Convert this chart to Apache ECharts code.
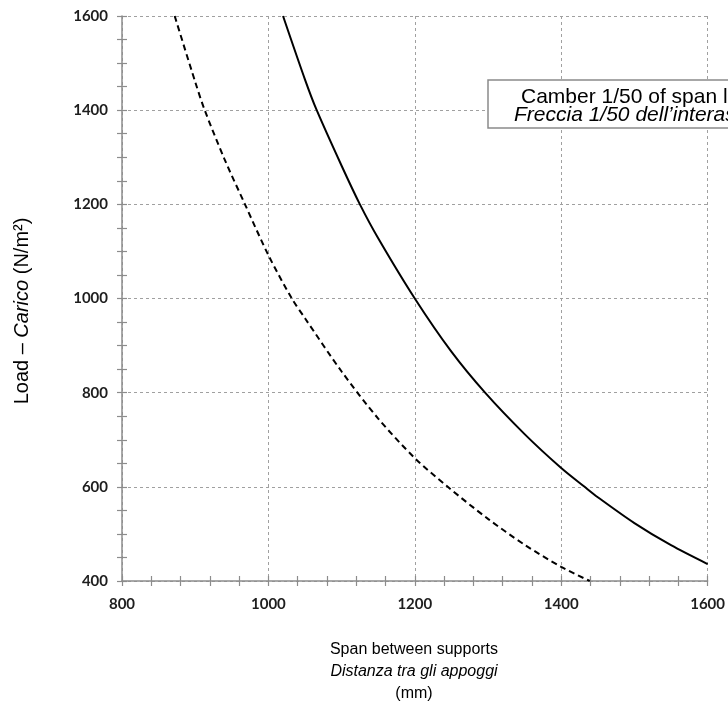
<!DOCTYPE html>
<html>
<head>
<meta charset="utf-8">
<script src="https://cdn.jsdelivr.net/npm/echarts@6/dist/echarts.min.js"></script>
<style>html,body{margin:0;padding:0;background:#fff;}#c{width:728px;height:702px;}</style>
</head>
<body>
<div id="c"></div>
<script>
// Span (mm) and load (N/m2)
const solidSpan = [1020, 1050, 1066, 1100, 1125, 1150, 1200, 1250, 1296, 1350, 1400, 1432, 1450, 1500, 1550, 1600];
const solidLoad = [1600, 1465, 1400, 1282, 1200, 1128, 1000, 887, 800, 712, 640, 600, 578, 523, 476, 436];
const dashedSpan = [872, 900, 913, 940, 968, 1000, 1032, 1050, 1100, 1150, 1200, 1245, 1300, 1350, 1400, 1439];
const dashedLoad = [1600, 1460, 1400, 1296, 1200, 1092, 1000, 958, 845, 745, 661, 600, 532, 477, 430, 400];
const xTicks = [800, 1000, 1200, 1400, 1600];
const yTicks = [400, 600, 800, 1000, 1200, 1400, 1600];
const legendLines = ['Camber 1/50 of span length', 'Freccia 1/50 dell\u2019interasse'];
const xTitle = ['Span between supports', 'Distanza tra gli appoggi', '(mm)'];

const chart = echarts.init(document.getElementById('c'));
const axisCol = '#8c8c8c';
const gridL = {show: true, lineStyle: {color: '#a0a0a0', type: [3, 3], width: 1}};
const labFont = {fontFamily: 'Lato', fontWeight: 'bold', fontSize: 15, color: '#1e1e1e', formatter: v => String(v)};

function xAx(main) {
  return {
    type: 'value', min: xTicks[0], max: xTicks[xTicks.length - 1], interval: 200,
    position: 'bottom',
    axisLine: {show: main, lineStyle: {color: axisCol, width: 1.5}},
    axisTick: {show: true, inside: !main, length: 5, lineStyle: {color: axisCol, width: 1.2}},
    minorTick: {show: true, splitNumber: 5, length: 5, lineStyle: {color: axisCol, width: 1.2}},
    axisLabel: main ? Object.assign({margin: 16}, labFont) : {show: false},
    splitLine: main ? gridL : {show: false}
  };
}
function yAx(main) {
  return {
    type: 'value', min: yTicks[0], max: yTicks[yTicks.length - 1], interval: 200,
    position: 'left',
    axisLine: {show: main, lineStyle: {color: axisCol, width: 1.5}},
    axisTick: {show: true, inside: !main, length: 5, lineStyle: {color: axisCol, width: 1.2}},
    minorTick: {show: true, splitNumber: 4, length: 5, lineStyle: {color: axisCol, width: 1.2}},
    axisLabel: main ? Object.assign({margin: 14}, labFont) : {show: false},
    splitLine: main ? gridL : {show: false}
  };
}

chart.setOption({
  animation: false,
  backgroundColor: '#fff',
  grid: {left: 122, right: 20, top: 16, bottom: 121, containLabel: false},
  xAxis: [xAx(true), xAx(false)],
  yAxis: [yAx(true), yAx(false)],
  series: [
    {
      type: 'line', xAxisIndex: 0, yAxisIndex: 0, smooth: 0.3, showSymbol: false,
      lineStyle: {color: '#000', width: 2},
      data: solidSpan.map((s, i) => [s, solidLoad[i]])
    },
    {
      type: 'line', xAxisIndex: 0, yAxisIndex: 0, smooth: 0.3, showSymbol: false,
      lineStyle: {color: '#000', width: 2, type: [6, 4]},
      data: dashedSpan.map((s, i) => [s, dashedLoad[i]])
    }
  ],
  graphic: [
    {type: 'rect', shape: {x: 488, y: 80, width: 330, height: 48},
     style: {fill: '#fff', stroke: '#8a8a8a', lineWidth: 1.5}, z: 10},
    {type: 'text', x: 521, y: 97, z: 11,
     style: {text: legendLines[0], fontFamily: 'Liberation Sans', fontSize: 21, fill: '#000', align: 'left', verticalAlign: 'middle'}},
    {type: 'text', x: 514, y: 115, z: 11,
     style: {text: legendLines[1], fontFamily: 'Liberation Sans', fontStyle: 'italic', fontSize: 21, fill: '#000', align: 'left', verticalAlign: 'middle'}},
    {type: 'text', x: 414, y: 650,
     style: {text: xTitle[0], fontFamily: 'Liberation Sans', fontSize: 16, fill: '#000', align: 'center', verticalAlign: 'middle'}},
    {type: 'text', x: 414, y: 672,
     style: {text: xTitle[1], fontFamily: 'Liberation Sans', fontStyle: 'italic', fontSize: 16, fill: '#000', align: 'center', verticalAlign: 'middle'}},
    {type: 'text', x: 414, y: 694,
     style: {text: xTitle[2], fontFamily: 'Liberation Sans', fontSize: 16, fill: '#000', align: 'center', verticalAlign: 'middle'}},
    {type: 'text', x: 22, y: 311, rotation: Math.PI / 2,
     style: {text: '{a|Load \u2013 }{b|Carico}{a| (N/m\u00b2)}', align: 'center', verticalAlign: 'middle',
       rich: {
         a: {fontFamily: 'Liberation Sans', fontSize: 20, fill: '#000', color: '#000'},
         b: {fontFamily: 'Liberation Sans', fontSize: 20, fontStyle: 'italic', fill: '#000', color: '#000'}
       }}}
  ]
});
</script>
</body>
</html>
